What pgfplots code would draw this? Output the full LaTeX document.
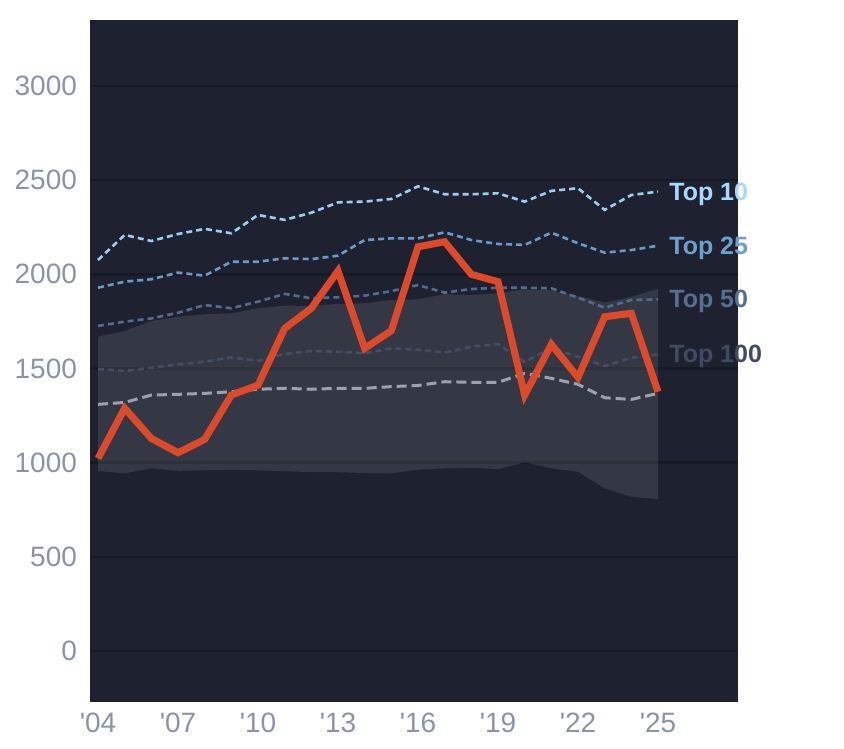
\documentclass[border=0pt]{standalone}
\usepackage{pgfplots}
\pgfplotsset{compat=1.18}
\usepgfplotslibrary{fillbetween}
\usepackage{pgfplotstable}
\usepackage{fontspec}
\setmainfont{Liberation Sans}
\definecolor{bgc}{HTML}{1E2230}
\definecolor{gridc}{HTML}{161A24}
\definecolor{tickc}{HTML}{8B94A5}
\definecolor{redc}{HTML}{DC4A29}
\definecolor{t10}{HTML}{9FCDF0}
\definecolor{t25}{HTML}{6C9AC6}
\definecolor{t50}{HTML}{536B8C}
\definecolor{t100}{HTML}{434D64}
\definecolor{medc}{HTML}{9CA1AB}
\definecolor{l10}{HTML}{A9D8FF}
\definecolor{l25}{HTML}{6FA0CC}
\definecolor{l50}{HTML}{56708F}
\definecolor{l100}{HTML}{404A60}
\pgfplotstableread{
year red top10 top25 top50 top100 med up lo
2004 1023 2076 1929 1726 1497 1310 1669 956
2005 1289 2209 1961 1749 1487 1320 1699 944
2006 1129 2177 1974 1766 1504 1359 1752 970
2007 1053 2214 2009 1796 1522 1363 1775 957
2008 1124 2241 1993 1837 1536 1368 1788 960
2009 1359 2218 2067 1820 1559 1377 1793 962
2010 1412 2315 2067 1855 1541 1390 1820 960
2011 1713 2289 2085 1896 1577 1395 1834 955
2012 1820 2327 2081 1873 1593 1390 1832 950
2013 2018 2382 2099 1878 1589 1395 1843 950
2014 1607 2386 2182 1887 1581 1395 1846 945
2015 1701 2400 2191 1911 1607 1404 1864 944
2016 2146 2467 2191 1943 1600 1410 1867 963
2017 2173 2425 2223 1903 1584 1430 1895 970
2018 2000 2425 2182 1922 1616 1427 1890 973
2019 1961 2430 2161 1929 1630 1427 1900 966
2020 1359 2386 2156 1929 1536 1474 1920 1002
2021 1628 2443 2221 1926 1607 1448 1915 970
2022 1453 2457 2165 1876 1563 1416 1885 952
2023 1775 2342 2115 1823 1513 1345 1850 864
2024 1793 2421 2129 1864 1557 1336 1880 819
2025 1377 2439 2152 1867 1575 1368 1925 807
}\data
\begin{document}
\begin{tikzpicture}
\begin{axis}[
  at={(0,0)}, anchor=south west,
  scale only axis, width=324pt, height=341pt,
  xmin=2003.7, xmax=2028, ymin=-270, ymax=3350,
  axis background/.style={fill=bgc},
  axis line style={draw=none},
  major tick length=0pt,
  ymajorgrids, grid style={gridc, line width=1.3pt},
  ytick={0,500,...,3000},
  xtick={2004,2007,2010,2013,2016,2019,2022,2025},
  xticklabels={\textquotesingle04,\textquotesingle07,\textquotesingle10,\textquotesingle13,\textquotesingle16,\textquotesingle19,\textquotesingle22,\textquotesingle25},
  /pgf/number format/assume math mode=true,
  scaled y ticks=false,
  y tick label style={/pgf/number format/1000 sep={}},
  tick label style={font=\fontsize{14}{14}\selectfont, text=tickc},
  yticklabel style={xshift=-3pt},
  xticklabel style={yshift=-2pt},
  clip=false,
]
\addplot[name path=up, draw=none] table[x=year,y=up]{\data};
\addplot[name path=lo, draw=none] table[x=year,y=lo]{\data};
\addplot[fill=white, fill opacity=0.1, draw=none] fill between[of=up and lo];
\addplot[medc, line width=1.5pt, dash pattern=on 5pt off 2.5pt] table[x=year,y=med]{\data};
\addplot[t100, line width=1.3pt, dash pattern=on 3pt off 2pt] table[x=year,y=top100]{\data};
\addplot[t50, line width=1.3pt, dash pattern=on 3pt off 2pt] table[x=year,y=top50]{\data};
\addplot[t25, line width=1.3pt, dash pattern=on 3pt off 2pt] table[x=year,y=top25]{\data};
\addplot[t10, line width=1.3pt, dash pattern=on 3pt off 2pt] table[x=year,y=top10]{\data};
\addplot[redc, line width=3.5pt, line join=miter] table[x=year,y=red]{\data};
\tikzset{toplab/.style={anchor=west, inner sep=0pt, yshift=-1.2pt, font=\bfseries\fontsize{12.5}{12.5}\selectfont}}
\node[toplab, text=l10] at (axis cs:2025.41,2439) {Top 10};
\node[toplab, text=l25] at (axis cs:2025.41,2152) {Top 25};
\node[toplab, text=l50] at (axis cs:2025.41,1867) {Top 50};
\node[toplab, text=l100] at (axis cs:2025.41,1575) {Top 100};
\end{axis}
\pgfresetboundingbox
\path[use as bounding box] (-45pt,-23pt) rectangle (377pt,351pt);
\end{tikzpicture}
\end{document}
